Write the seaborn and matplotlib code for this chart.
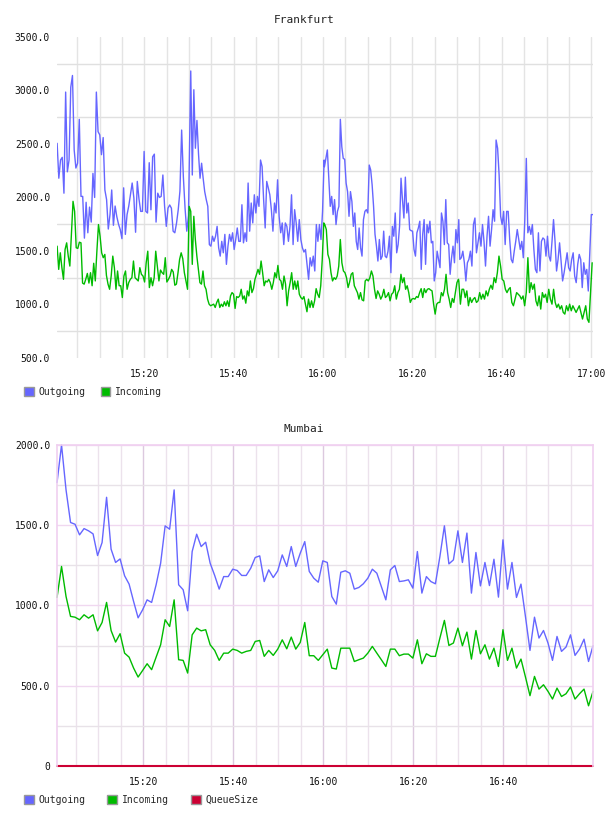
import numpy as np
import pandas as pd
import matplotlib
matplotlib.use("Agg")
import matplotlib.pyplot as plt
import seaborn as sns
from matplotlib.patches import Patch
from matplotlib.ticker import FuncFormatter

# -----------------------------
# Data (x = minutes after 15:00)
# -----------------------------
series_names = ["Outgoing", "Incoming", "QueueSize"]
series_colors = {"Outgoing": "#6666ff", "Incoming": "#00bb00", "QueueSize": "#cc0033"}

time_ticks = [20, 40, 60, 80, 100, 120]
time_labels = ["15:20", "15:40", "16:00", "16:20", "16:40", "17:00"]

# Frankfurt, read in four half-hour pieces
fra_out_spans = [(0.52, 29.90), (30.41, 60.24), (60.32, 90.37), (90.60, 120.35)]
fra_out_1 = [2506, 2180, 2350, 2375, 2040, 2985, 2240, 2350, 3030, 3140, 2445, 2275, 2320, 2730,
             2010, 2010, 1620, 1955, 1670, 1910, 1770, 2225, 2000, 2985, 2615, 2585, 2400, 2560,
             2070, 1980, 1705, 1840, 2070, 1740, 1920, 1820, 1750, 1700, 1615, 2090, 1655, 1840,
             1920, 2025, 2135, 1995, 1675, 2150, 1985, 1870, 1870, 2430, 1870, 1855, 2325, 1885,
             2380, 2405, 1770, 2040, 2000, 2010, 2210, 1920, 1730, 1900, 1930, 1900, 1685, 1670,
             1760, 1885, 2060, 2630, 2195, 1900, 1685, 1830]
fra_out_2 = [3182, 2210, 3007, 2460, 2720, 2410, 2180, 2320, 2180, 2055, 1980, 1917, 1560, 1545,
             1638, 1590, 1638, 1730, 1530, 1452, 1590, 1483, 1655, 1375, 1545, 1655, 1590, 1670,
             1514, 1607, 1715, 1590, 1590, 1932, 1576, 1670, 1590, 2135, 1685, 1948, 1762, 2025,
             1855, 2010, 1917, 2350, 2288, 1980, 1715, 2150, 2090, 2025, 1886, 1685, 1948, 1855,
             2165, 1824, 1670, 1762, 1560, 1762, 1730, 1590, 1730, 2025, 1560, 1886, 1762, 1590,
             1793, 1607, 1530, 1490, 1514, 1375, 1235, 1437, 1359, 1452, 1313, 1747, 1590, 1747,
             1607, 1870, 2350]
fra_out_3 = [2288, 2365, 2444, 2180, 1917, 2010, 1840, 1980, 1747, 1870, 1917, 2730, 2475, 2365,
             2357, 2134, 2055, 1824, 2055, 1962, 1730, 1855, 1590, 1514, 1715, 1530, 1452, 1793,
             1870, 1886, 1855, 2303, 2257, 2118, 1917, 1655, 1545, 1406, 1607, 1421, 1452, 1685,
             1452, 1437, 1498, 1638, 1297, 1730, 1638, 1855, 1483, 1560, 1730, 2180, 1980, 1808,
             2190, 1855, 1948, 1700, 1690, 1685, 1514, 1452, 1670, 1715, 1778, 1328, 1655, 1793,
             1375, 1747, 1670, 1778, 1576, 1590, 1220, 1297, 1498, 1421, 1344, 1855, 1778, 1560,
             1980, 1576, 1560, 1282, 1437, 1545, 1390, 1700, 1576, 1793]
fra_out_4 = [1421, 1437, 1498, 1390, 1220, 1390, 1421, 1498, 1359, 1747, 1808, 1483, 1576, 1670,
             1545, 1747, 1590, 1359, 1638, 1824, 1545, 1700, 1886, 1778, 2537, 2460, 2210, 1824,
             1747, 1870, 1560, 1870, 1870, 1607, 1421, 1390, 1498, 1590, 1700, 1607, 1514, 1590,
             1437, 1793, 2365, 1670, 1730, 1655, 1747, 1514, 1328, 1297, 1670, 1313, 1590, 1622,
             1607, 1452, 1638, 1452, 1406, 1590, 1793, 1590, 1313, 1421, 1576, 1406, 1220, 1297,
             1390, 1483, 1344, 1313, 1421, 1483, 1266, 1204, 1375, 1468, 1421, 1158, 1390, 1282,
             1328, 1126, 1483, 1840, 1840]

fra_in_spans = [(0.52, 30.05), (30.41, 60.17), (60.39, 90.30), (90.37, 120.20)]
fra_in_1 = [1545, 1328, 1483, 1344, 1235, 1514, 1576, 1452, 1359, 1670, 1964, 1870, 1530, 1524,
            1582, 1576, 1200, 1190, 1235, 1290, 1200, 1297, 1175, 1385, 1220, 1498, 1747, 1638,
            1483, 1437, 1468, 1272, 1190, 1142, 1266, 1452, 1344, 1142, 1313, 1175, 1175, 1065,
            1266, 1313, 1142, 1204, 1235, 1250, 1406, 1250, 1235, 1220, 1344, 1282, 1266, 1210,
            1390, 1498, 1158, 1250, 1175, 1250, 1498, 1359, 1220, 1322, 1297, 1282, 1437, 1210,
            1235, 1266, 1328, 1304, 1180, 1190, 1297, 1421, 1483, 1428, 1297, 1220, 1142, 1917]
fra_in_2 = [1870, 1375, 1824, 1607, 1452, 1328, 1204, 1190, 1313, 1175, 1142, 1050, 1003, 988,
            995, 1003, 972, 1019, 1050, 972, 1003, 981, 1025, 988, 1034, 981, 1080, 1111, 1096,
            963, 1074, 1065, 1080, 1142, 1050, 1080, 1012, 1127, 1080, 1220, 1111, 1148, 1235,
            1282, 1328, 1282, 1406, 1297, 1175, 1220, 1210, 1235, 1204, 1142, 1204, 1297, 1250,
            1365, 1235, 1220, 1142, 1266, 1190, 988, 1127, 1204, 1297, 1142, 1220, 1142, 1220,
            1096, 1065, 1050, 1074, 1003, 932, 1050, 972, 1034, 972, 1034, 1148, 1096, 1065,
            1175, 1421, 1762]
fra_in_3 = [1747, 1700, 1468, 1421, 1297, 1220, 1250, 1235, 1266, 1359, 1607, 1390, 1313, 1297,
            1250, 1158, 1210, 1282, 1297, 1175, 1142, 1111, 1050, 1111, 1043, 1034, 1220, 1235,
            1220, 1250, 1313, 1266, 1142, 1056, 1127, 1096, 1050, 1080, 1142, 1065, 1080, 1111,
            1034, 1096, 1111, 1175, 1050, 1111, 1142, 1282, 1204, 1250, 1142, 1175, 1111, 1019,
            1050, 1056, 1050, 1074, 1065, 1111, 1148, 1065, 1148, 1111, 1142, 1148, 1136, 1127,
            1003, 910, 1003, 1019, 1019, 1111, 1080, 1142, 1282, 1111, 1050, 972, 1056, 1019,
            1111, 1204, 1235]
fra_in_4 = [1220, 1003, 1142, 1142, 1065, 1127, 988, 1065, 1019, 1050, 1065, 1019, 1034, 1111,
            1050, 1096, 1050, 1127, 1080, 1142, 1180, 1142, 1250, 1204, 1297, 1452, 1359, 1235,
            1220, 1142, 1111, 1142, 1158, 1019, 988, 1050, 1111, 1096, 1080, 1050, 1080, 988,
            1111, 1437, 1111, 1204, 1142, 1190, 1034, 988, 1080, 957, 1111, 1065, 1096, 1019,
            1142, 1050, 1003, 1142, 1019, 972, 1003, 957, 988, 926, 910, 988, 941, 1003, 941,
            988, 957, 926, 957, 988, 926, 864, 926, 988, 864, 833, 1111, 1390]

# Mumbai, one sample a minute
mum_span = (0.8, 119.95)
mum_out = [1766, 2000, 1720, 1517, 1506, 1440, 1479, 1465, 1446, 1311, 1392, 1674, 1351, 1268,
           1290, 1185, 1133, 1025, 923, 973, 1035, 1019, 1129, 1263, 1496, 1475, 1720, 1129,
           1098, 967, 1336, 1444, 1367, 1394, 1263, 1187, 1102, 1180, 1180, 1226, 1218, 1187,
           1187, 1232, 1299, 1309, 1149, 1222, 1174, 1216, 1315, 1243, 1367, 1243, 1326,
           1398, 1212, 1170, 1145, 1278, 1268, 1056, 1008, 1207, 1216, 1201, 1102, 1112, 1135,
           1170, 1226, 1201, 1118, 1035, 1222, 1249, 1149, 1153, 1160, 1108, 1336, 1077, 1180,
           1149, 1135, 1305, 1496, 1259, 1284, 1465, 1268, 1451, 1077, 1330, 1122, 1268, 1124,
           1288, 1052, 1409, 1102, 1268, 1050, 1133, 930, 720, 927, 797, 844, 766, 658, 807,
           714, 741, 817, 689, 728, 790, 651, 749]
mum_in = [1050, 1243, 1056, 932, 927, 911, 942, 921, 942, 842, 894, 1019, 844, 772, 824, 703,
          678, 610, 554, 595, 637, 600, 678, 755, 911, 869, 1035, 662, 658, 579, 817, 859, 842,
          849, 755, 720, 658, 703, 703, 728, 720, 703, 714, 720, 776, 782, 683, 720, 689, 728,
          786, 730, 803, 728, 770,
          894, 687, 687, 658, 693, 728, 610, 604, 734, 734, 734, 651, 662, 672, 703, 745, 703,
          662, 620, 728, 728, 687, 697, 697, 672, 786, 637, 699, 683, 683, 797, 907, 751, 766,
          859, 749, 834, 666, 844, 699, 755, 666, 734, 620, 849, 658, 734, 610, 666, 554, 438,
          558, 479, 506, 465, 417, 485, 433, 450, 492, 417, 450, 479, 375, 465]
mum_queue = [0] * len(mum_out)

# -----------------------------
# Long-form tables
# -----------------------------
def pieces_to_frame(name, spans, pieces):
    parts = []
    for (t0, t1), vals in zip(spans, pieces):
        parts.append(pd.DataFrame({"minute": np.linspace(t0, t1, len(vals)),
                                   "value": vals, "series": name}))
    return pd.concat(parts, ignore_index=True)

fra_df = pd.concat([
    pieces_to_frame("Outgoing", fra_out_spans, [fra_out_1, fra_out_2, fra_out_3, fra_out_4]),
    pieces_to_frame("Incoming", fra_in_spans, [fra_in_1, fra_in_2, fra_in_3, fra_in_4]),
], ignore_index=True)

mum_minutes = np.linspace(mum_span[0], mum_span[1], len(mum_out))
mum_df = pd.concat([
    pd.DataFrame({"minute": mum_minutes, "value": vals, "series": name})
    for name, vals in zip(series_names, [mum_out, mum_in, mum_queue])
], ignore_index=True)

# -----------------------------
# Plot
# -----------------------------
sns.set_theme(style="white")
plt.rcParams["font.family"] = ["DejaVu Sans Mono", "DejaVu Sans"]
plt.rcParams["font.size"] = 7

fig = plt.figure(figsize=(6.08, 8.16), dpi=100)
ax_f = fig.add_axes([0.0938, 0.5613, 0.8816, 0.3934])
ax_m = fig.add_axes([0.0938, 0.0613, 0.8816, 0.3934])

for ax, df, names in [(ax_f, fra_df, series_names[:2]), (ax_m, mum_df, series_names)]:
    sns.lineplot(data=df, x="minute", y="value", hue="series", hue_order=names,
                 palette=series_colors, estimator=None, errorbar=None,
                 linewidth=1.0, legend=False, ax=ax)
    ax.set_xlabel("")
    ax.set_ylabel("")
    ax.tick_params(which="both", length=0, labelsize=7, colors="#111111")
    ax.tick_params(axis="x", pad=8)
    ax.tick_params(axis="y", pad=5)

# Frankfurt axes: grid every 5 minutes, horizontal lines halfway between labels
ax_f.set_xlim(0.5, 120.4)
ax_f.set_xticks(time_ticks)
ax_f.set_xticklabels(time_labels)
ax_f.set_xticks(np.arange(5, 121, 5), minor=True)
ax_f.set_ylim(500, 3500)
ax_f.set_yticks(np.arange(500, 3501, 500))
ax_f.set_yticks(np.arange(750, 3500, 500), minor=True)
ax_f.yaxis.set_major_formatter(FuncFormatter(lambda v, p: f"{v:.1f}"))
ax_f.grid(False)
ax_f.grid(which="both", axis="x", color="#e4e4e4", linewidth=1)
ax_f.grid(which="minor", axis="y", color="#e0e0e0", linewidth=1)
for s in ax_f.spines.values():
    s.set_visible(False)

# Mumbai axes
ax_m.set_xlim(0.8, 119.95)
ax_m.set_xticks(time_ticks[:-1])
ax_m.set_xticklabels(time_labels[:-1])
ax_m.set_xticks(np.arange(5, 120, 5), minor=True)
ax_m.set_ylim(0, 2000)
ax_m.set_yticks(np.arange(0, 2001, 500))
ax_m.set_yticks(np.arange(250, 2000, 500), minor=True)
ax_m.yaxis.set_major_formatter(FuncFormatter(lambda v, p: "0" if v == 0 else f"{v:.1f}"))
ax_m.grid(False)
ax_m.grid(which="major", axis="x", color="#dcc9df", linewidth=1)
ax_m.grid(which="minor", axis="x", color="#ece2ec", linewidth=1)
ax_m.grid(which="major", axis="y", color="#f0d8f0", linewidth=1)
ax_m.grid(which="minor", axis="y", color="#e8e2e8", linewidth=1)
for name, s in ax_m.spines.items():
    s.set_visible(name != "bottom")
    s.set_color("#f0d0f0")
    s.set_linewidth(1.2)
for line in ax_m.lines:
    line.set_clip_on(False)
ax_m.lines[2].set_linewidth(1.5)

# Titles
fig.text(0.5, 1 - 20 / 816, "Frankfurt", ha="center", va="center", fontsize=8, color="#222222")
fig.text(0.5, 1 - 429 / 816, "Mumbai", ha="center", va="center", fontsize=8, color="#222222")

# Legends below each chart
def add_legend(names, y, spacing):
    handles = [Patch(facecolor=series_colors[n], edgecolor="#999999", linewidth=1) for n in names]
    fig.legend(handles, names, loc="center left", bbox_to_anchor=(0.0395, y), ncol=len(names),
               frameon=False, fontsize=7, handlelength=1.0, handleheight=1.0,
               handletextpad=0.5, columnspacing=spacing, borderpad=0, borderaxespad=0)

add_legend(series_names[:2], 1 - 392 / 816, 1.55)
add_legend(series_names, 1 - 800 / 816, 2.25)

fig.savefig("out.png", dpi=100)
